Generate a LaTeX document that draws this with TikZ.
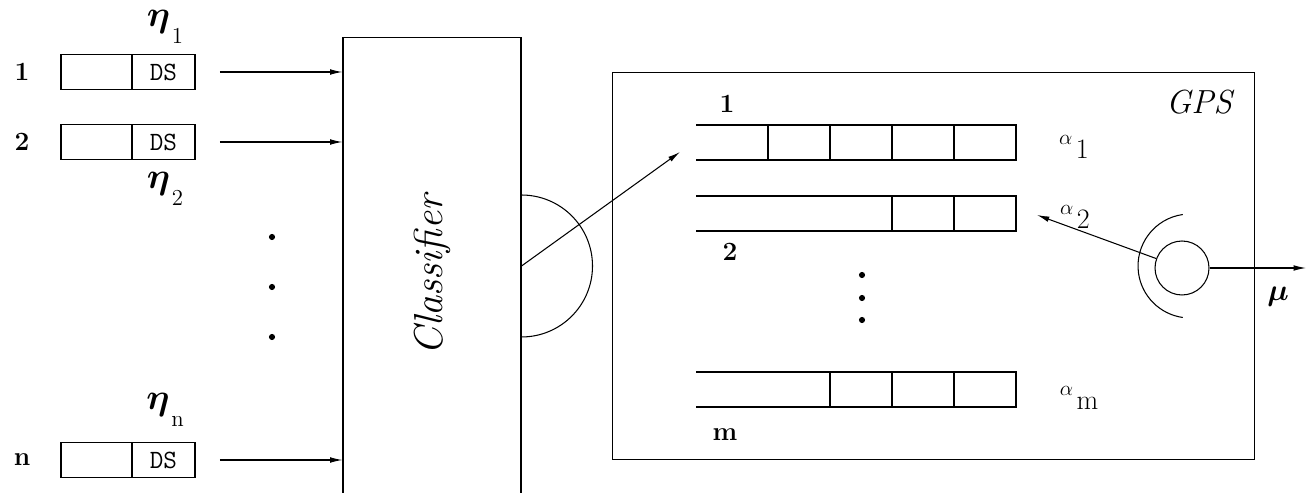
\documentclass[tikz,border=0pt]{standalone}
\usepackage{bm}
\usetikzlibrary{arrows.meta,positioning}
\newcommand{\alab}[1]{{\fontsize{13}{15}\selectfont$\alpha$}\hspace{2pt}\raisebox{-1.2ex}{#1}}
\newcommand{\etalab}[1]{$\bm{\eta}$\hspace{1pt}\raisebox{-1.1ex}{\fontsize{13}{15}\selectfont#1}}

\begin{document}
\begin{tikzpicture}[x=0.02cm,y=0.02cm,line width=0.6pt,
  cell/.style={draw,minimum height=0.7cm,inner sep=0pt,outer sep=0pt},
  arr/.style={-{Latex[length=7pt,width=3.2pt]}},
  num/.style={font=\fontsize{15}{17}\selectfont\bfseries},
  eta/.style={font=\fontsize{21}{23}\selectfont,inner sep=0pt},
  alpha/.style={font=\fontsize{16}{18}\selectfont},
  dot/.style={circle,fill,inner sep=0pt,minimum size=3.5pt}]
  \useasboundingbox (0,0) rectangle (1307,493);
  % classifier
  \node[draw,minimum width=3.56cm,minimum height=9.52cm,font=\fontsize{23}{26}\selectfont\itshape] (clf) at (432,218) {\rotatebox{90}{Classifier}};
  % input packets
  \foreach \i/\y in {1/421,2/351,n/33}{
    \node[num] (l\i) at (22,\y) {\i};
    \node[cell,minimum width=1.42cm,anchor=west] (p\i a) at (61,\y) {};
    \node[cell,minimum width=1.26cm,right=0pt of p\i a,font=\ttfamily\fontsize{15}{17}\selectfont] (p\i b) {DS};
    \draw[arr] ([xshift=0.5cm]p\i b.east) -- (p\i b.east -| clf.west);
  }
  \node[eta] (e1) at (165,466) {\etalab{1}};
  \node[eta] (e2) at (165,304) {\etalab{2}};
  \node[eta] (en) at (165,83) {\etalab{n}};
  \foreach \y in {256,206,156}{\node[dot] (dl\y) at (272,\y) {};}
  % output side of the classifier
  \coordinate (hub) at (clf.east |- 0,227);
  \draw ([yshift=1.42cm]hub) arc[start angle=90,end angle=-90,radius=1.42cm];
  % GPS server
  \node[draw,minimum width=12.86cm,minimum height=7.76cm] (gps) at (933.5,227) {};
  \node[font=\fontsize{19}{21}\selectfont\itshape] (gpsl) at (1199,391) {GPS};
  \coordinate (q1in) at (680,341);
  \draw[arr] (hub) -- (q1in);
  \foreach \q/\y/\k in {1/350.5/4,2/279.5/2,m/103.5/3}{
    \foreach \j [evaluate=\j as \cx using 1047-62*\j] in {1,...,\k}{
      \node[cell,minimum width=1.24cm] (q\q c\j) at (\cx,\y) {};
    }
    \draw (q\q c\k.north west) -- (q\q c\k.north west -| 696,0);
    \draw (q\q c\k.south west) -- (q\q c\k.south west -| 696,0);
  }
  \node[num] (ql1) at (727,389) {1};
  \node[num] (ql2) at (730,241) {2};
  \node[num] (qlm) at (725,58) {m};
  \foreach \y in {218,195,173}{\node[dot] (dr\y) at (862,\y) {};}
  \node[alpha] (a1) at (1074,346) {\alab{1}};
  \node[alpha] (a2) at (1075,276) {\alab{2}};
  \node[alpha] (am) at (1079,95) {\alab{m}};
  \node[draw,circle,minimum size=1.08cm,inner sep=0pt] (srv) at (1182,225) {};
  \coordinate (arcc) at ([xshift=0.16cm,yshift=0.04cm]srv.center);
  \draw ([shift={(98:1.04cm)}]arcc) arc[start angle=98,end angle=262,radius=1.04cm];
  \coordinate (q2out) at (1037,278);
  \draw[arr] (srv) -- (q2out);
  \coordinate (out) at (1306,225);
  \draw[arr] (srv) -- (out);
  \node[font=\fontsize{18}{20}\selectfont] (mu) at (1278,196) {$\bm{\mu}$};
\end{tikzpicture}
\end{document}
